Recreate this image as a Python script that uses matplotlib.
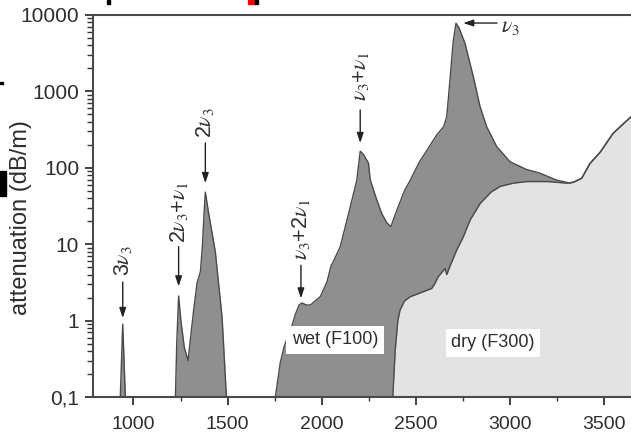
import numpy as np
import matplotlib
matplotlib.use('Agg')
import matplotlib.pyplot as plt
from matplotlib.patches import Rectangle
from matplotlib.ticker import FixedLocator, NullFormatter

plt.rcParams['font.family'] = ['Liberation Sans', 'DejaVu Sans']
plt.rcParams['mathtext.fontset'] = 'stix'

# wet fibre (F100): wavenumber (cm^-1) and attenuation (dB/m)
wet_x = [930, 943, 957,
         1223, 1230, 1240, 1252, 1270, 1290, 1320, 1338, 1356, 1367, 1375, 1382,
         1400, 1435, 1471, 1494,
         1754, 1780, 1800, 1823, 1842, 1860, 1880, 1895, 1920, 1940, 1993, 2028,
         2050, 2063, 2099, 2143, 2187, 2205, 2222, 2249, 2258, 2290, 2320, 2347,
         2368, 2400, 2440, 2470, 2520, 2560, 2612, 2650, 2665, 2683, 2699, 2714,
         2730, 2762, 2806, 2842, 2877, 2930, 3001, 3089, 3160, 3249, 3320, 3340,
         3382, 3426, 3480, 3549, 3600, 3644]
wet_y = [0.1, 0.9, 0.1,
         0.1, 0.5, 2.1, 1.0, 0.45, 0.3, 1.38, 3.1, 4.4, 10, 25, 48,
         25, 8, 1.1, 0.1,
         0.1, 0.28, 0.45, 0.65, 0.85, 1.2, 1.6, 1.7, 1.6, 1.6, 2.06, 3.2,
         5.2, 6.0, 9.3, 25, 69, 165, 150, 115, 70, 40, 25, 19,
         17, 28, 50, 68, 120, 170, 270, 350, 470, 1500, 4500, 7800,
         6800, 4250, 1560, 630, 345, 190, 120, 95, 85, 69, 63, 65,
         73, 114, 160, 283, 370, 466]

# dry fibre (F300)
dry_x = [2378, 2391, 2405, 2417, 2440, 2470, 2541, 2585, 2600, 2620, 2656, 2665,
         2680, 2718, 2753, 2789, 2842, 2900, 2948, 3020, 3090, 3200, 3302, 3340,
         3382, 3426, 3480, 3549, 3600, 3644]
dry_y = [0.1, 0.41, 1.0, 1.38, 1.8, 2.05, 2.39, 2.64, 3.0, 3.76, 4.8, 4.0,
         5.0, 8.4, 12.5, 20.7, 34, 48, 57, 63, 66, 66, 63, 65,
         73, 114, 160, 283, 370, 466]

# band assignments: label, x position, arrow head / tail, text bottom
bands = [r'3$\nu_3$', r'2$\nu_3$+$\nu_1$', r'2$\nu_3$', r'$\nu_3$+2$\nu_1$', r'$\nu_3$+$\nu_1$']
band_x = [943, 1240, 1382, 1890, 2205]
band_head = [1.08, 2.8, 63, 1.95, 211]
band_tail = [3.2, 9.3, 211, 5.3, 571]
band_text = [3.8, 10.5, 245, 6.3, 760]

ytick_vals = [0.1, 1, 10, 100, 1000, 10000]
ytick_labels = ['0,1', '1', '10', '100', '1000', '10000']
xtick_vals = [1000, 1500, 2000, 2500, 3000, 3500]

dark = '#8f8f8f'
light = '#e3e3e3'
edge = '#4a4a4a'
txt = '#2e2e2e'

fig = plt.figure(figsize=(6.31, 4.37), dpi=100)
ax = fig.add_axes([93 / 631, 40 / 437, 538 / 631, 382 / 437])

ax.fill_between(wet_x, 0.05, wet_y, color=dark, lw=0)
ax.plot(wet_x, wet_y, color=edge, lw=1.0)
ax.fill_between(dry_x, 0.05, dry_y, color=light, lw=0)
ax.plot(dry_x, dry_y, color=edge, lw=1.0)

ax.set_yscale('log')
ax.set_xlim(785, 3644)
ax.set_ylim(0.1, 10000)

# arrows and band labels
for lab, x, h, t, tt in zip(bands, band_x, band_head, band_tail, band_text):
    ax.annotate('', xy=(x, h), xytext=(x, t),
                arrowprops=dict(arrowstyle='-|>,head_length=0.6,head_width=0.2',
                                color='#222222', lw=1.0,
                                mutation_scale=10, shrinkA=0, shrinkB=0))
    ax.text(x, tt, lab, rotation=90, ha='center', va='bottom',
            fontsize=15.5, color=txt)
ax.annotate('', xy=(2752, 7850), xytext=(2932, 7850),
            arrowprops=dict(arrowstyle='-|>,head_length=0.6,head_width=0.2',
                            color='#222222', lw=1.0,
                            mutation_scale=10, shrinkA=0, shrinkB=0))
ax.text(2955, 7000, r'$\nu_3$', ha='left', va='center', fontsize=15.5, color=txt)

ax.text(2072, 0.56, 'wet (F100)', ha='center', va='center', fontsize=13, color=txt,
        bbox=dict(facecolor='white', edgecolor='none', pad=4))
ax.text(2911, 0.51, 'dry (F300)', ha='center', va='center', fontsize=13, color=txt,
        bbox=dict(facecolor='white', edgecolor='none', pad=4))

ax.set_yticks(ytick_vals)
ax.set_yticklabels(ytick_labels)
# log minor ticks 2..9 in every decade
minor_y = [m * 10.0 ** d for d in range(-1, 4) for m in range(2, 10)]
ax.yaxis.set_minor_locator(FixedLocator(minor_y))
ax.yaxis.set_minor_formatter(NullFormatter())
ax.set_xticks(xtick_vals)
ax.set_xticks([1250, 1750, 2250, 2750, 3250], minor=True)
ax.tick_params(axis='y', which='major', direction='out', labelsize=15, length=6,
               width=1.3, color='#333333', labelcolor=txt, pad=4)
ax.tick_params(axis='y', which='minor', direction='out', length=4, width=1.0,
               color='#333333', left=True)
ax.tick_params(axis='x', which='major', direction='out', labelsize=14, length=6,
               width=1.3, color='#333333', labelcolor=txt, pad=8)
ax.tick_params(axis='x', which='minor', direction='out', length=3, width=1.0,
               color='#333333', bottom=True)

for s in ['left', 'top', 'bottom']:
    ax.spines[s].set_color(edge)
    ax.spines[s].set_linewidth(1.5)
ax.spines['right'].set_visible(False)

ax.set_ylabel('attenuation (dB/m)', fontsize=17, color=txt)
ax.yaxis.set_label_coords(-0.113, 0.47)

# bits of the surrounding page that got into the scan
for (x0, y0, w, h, c) in [(107, 0, 3, 4, 'black'), (248, 0, 7, 4, 'red'),
                          (255, 0, 3, 4, 'black'), (0, 82, 3, 2, 'black'),
                          (0, 171, 6, 25, 'black')]:
    fig.patches.append(Rectangle((x0 / 631, 1 - (y0 + h) / 437), w / 631, h / 437,
                                 transform=fig.transFigure, color=c, zorder=5))

plt.savefig('out.png', dpi=100)
